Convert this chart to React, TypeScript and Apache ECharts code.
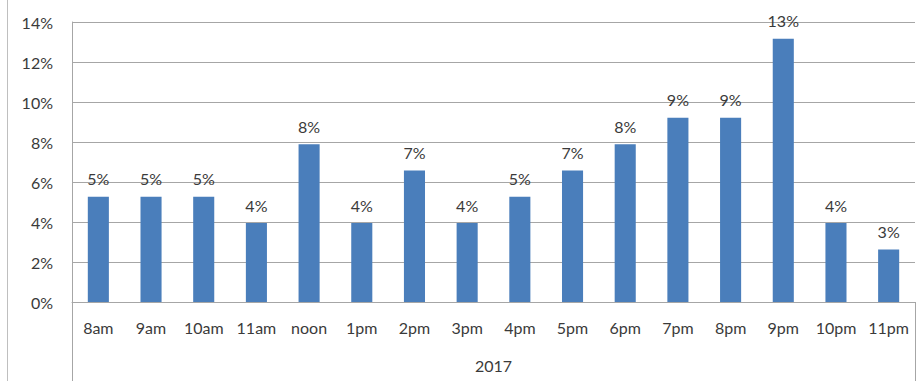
import React, { useEffect, useRef } from "react";
import * as echarts from "echarts";

const hours = ["8am", "9am", "10am", "11am", "noon", "1pm", "2pm", "3pm", "4pm", "5pm", "6pm", "7pm", "8pm", "9pm", "10pm", "11pm"];
const shares = [5.26, 5.26, 5.26, 3.95, 7.89, 3.95, 6.58, 3.95, 5.26, 6.58, 7.89, 9.21, 9.21, 13.16, 3.95, 2.63];
const groupLabels = ["2017"];
const yMin = 0;
const yMax = 14;
const yStep = 2;

const FONT = "Lato, 'Open Sans', sans-serif";
const TEXT = "#3a3a3a";
const GRID_LINE = "#a6a6a6";
const FS = 16;

export default function App() {
  const ref = useRef<HTMLDivElement>(null);
  useEffect(() => {
    if (!ref.current) return;
    const chart = echarts.init(ref.current, null, { renderer: "svg" });
    chart.setOption({
      animation: false,
      backgroundColor: "#ffffff",
      grid: { left: 72, right: 9, top: 22, bottom: 79, containLabel: false },
      xAxis: [
        {
          type: "category",
          data: hours,
          position: "bottom",
          axisLine: { show: true, lineStyle: { color: GRID_LINE, width: 1 } },
          axisTick: { show: false },
          axisLabel: { color: TEXT, fontSize: FS, fontFamily: FONT, margin: 17, interval: 0 },
        },
        {
          type: "category",
          data: groupLabels,
          position: "bottom",
          axisLine: { show: false },
          axisTick: { show: true, length: 79, lineStyle: { color: GRID_LINE, width: 1 } },
          axisLabel: { color: TEXT, fontSize: FS, fontFamily: FONT, margin: 55 },
        },
      ],
      yAxis: {
        type: "value",
        min: yMin,
        max: yMax,
        interval: yStep,
        axisLine: { show: true, lineStyle: { color: GRID_LINE, width: 1 } },
        axisTick: { show: false },
        splitLine: { show: true, lineStyle: { color: GRID_LINE, width: 1 } },
        axisLabel: { color: TEXT, fontSize: FS, fontFamily: FONT, margin: 19, formatter: "{value}%" },
      },
      series: [
        {
          type: "bar",
          data: shares,
          xAxisIndex: 0,
          barWidth: "40%",
          itemStyle: { color: "#4a7ebb" },
          label: {
            show: true,
            position: "top",
            distance: 10,
            color: TEXT,
            fontSize: FS,
            fontFamily: FONT,
            formatter: (p: any) => Math.round(p.value) + "%",
          },
        },
      ],
      graphic: [
        {
          type: "line",
          shape: { x1: 7.5, y1: 0, x2: 7.5, y2: 381 },
          style: { stroke: "#bfbfbf", lineWidth: 1 },
        },
      ],
    });
    return () => chart.dispose();
  }, []);
  return <div ref={ref} style={{ width: 924, height: 381, position: "absolute", left: 0, top: 0 }} />;
}
